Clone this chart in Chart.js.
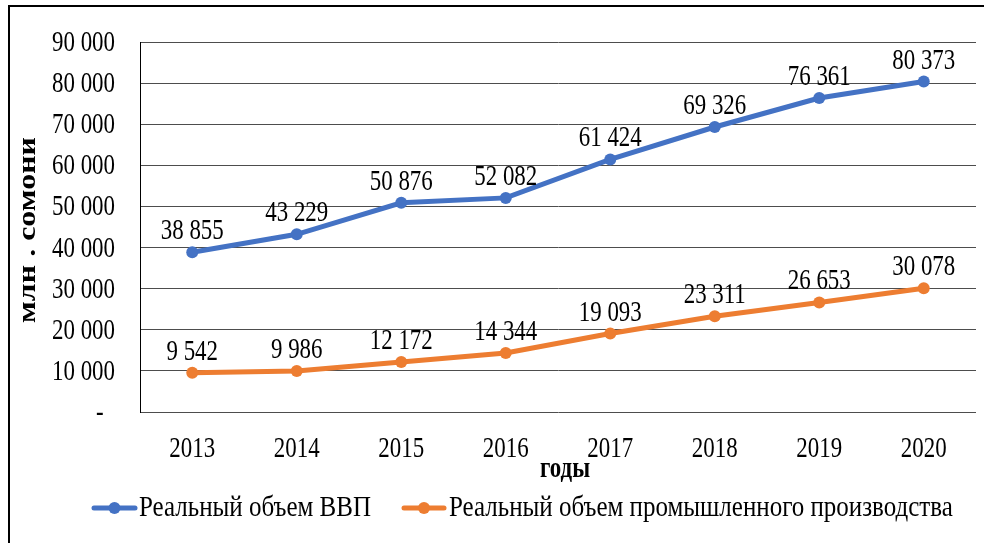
<!DOCTYPE html>
<html>
<head>
<meta charset="utf-8">
<script src="https://cdn.jsdelivr.net/npm/chart.js@4"></script>
<style>
    html, body { margin: 0; padding: 0; background: #fff; overflow: hidden; }
    #frame { position: absolute; left: 8px; top: 5px; width: 1100px; height: 700px; border: 2px solid #000; }
    #chart { position: absolute; left: 0; top: 0; }
</style>
</head>
<body>
<div id="frame"></div>
<canvas id="chart" width="984" height="543"></canvas>
<script>
// === DATA ===
const years = ['2013', '2014', '2015', '2016', '2017', '2018', '2019', '2020'];
const gdpValues = [38855, 43229, 50876, 52082, 61424, 69326, 76361, 80373];
const industryValues = [9542, 9986, 12172, 14344, 19093, 23311, 26653, 30078];
const seriesNames = ['Реальный объем ВВП', 'Реальный объем промышленного производства'];
const yAxisTitle = 'млн . сомони';
const xAxisTitle = 'годы';

const COLORS = { blue: '#4472C4', orange: '#ED7D31', grid: '#4d4d4d', text: '#000' };
const SERIF = '"Liberation Serif", "Times New Roman", serif';
const SX = 0.79; // text in the reference is narrow / tall

const fmt = v => v === 0 ? '-  ' : String(v).replace(/\B(?=(\d{3})+(?!\d))/g, ' ');

// condensed text helper
function text(ctx, str, x, y, font, align, sx) {
    ctx.save();
    ctx.font = font;
    ctx.fillStyle = COLORS.text;
    ctx.translate(x, y);
    ctx.scale(sx || SX, 1);
    ctx.textAlign = align || 'center';
    ctx.textBaseline = 'alphabetic';
    ctx.fillText(str, 0, 0);
    ctx.restore();
}

const textPlugin = {
    id: 'condensedText',
    afterDatasetsDraw(chart) {
        const ctx = chart.ctx;
        const xs = chart.scales.x, ys = chart.scales.y;
        const font = '29px ' + SERIF;

        // y tick labels
        ys.ticks.forEach((t, i) => {
            text(ctx, fmt(t.value), 115, ys.getPixelForTick(i) + 9, font, 'right');
        });
        // x tick labels
        years.forEach((y, i) => text(ctx, y, xs.getPixelForValue(i), 457, font, 'center'));

        // data labels
        chart.data.datasets.forEach((ds, di) => {
            chart.getDatasetMeta(di).data.forEach((pt, i) => {
                text(ctx, fmt(ds.data[i]), pt.x, pt.y - 13, font, 'center');
            });
        });

        // axis titles
        text(ctx, xAxisTitle, 565, 477, 'bold 29px ' + SERIF, 'center');
        ctx.save();
        ctx.font = 'bold 32px ' + SERIF;
        ctx.fillStyle = COLORS.text;
        ctx.translate(35, 230);
        ctx.rotate(-Math.PI / 2);
        ctx.scale(1, SX);
        ctx.textAlign = 'center';
        ctx.textBaseline = 'alphabetic';
        ctx.fillText(yAxisTitle, 0, 0);
        ctx.restore();

        // legend
        const items = [{ x0: 92, x1: 137, tx: 139 }, { x0: 402, x1: 446, tx: 449 }];
        chart.data.datasets.forEach((ds, di) => {
            const it = items[di];
            ctx.save();
            ctx.strokeStyle = ds.borderColor;
            ctx.lineWidth = 5;
            ctx.lineCap = 'round';
            ctx.beginPath();
            ctx.moveTo(it.x0 + 2, 508);
            ctx.lineTo(it.x1 - 2, 508);
            ctx.stroke();
            ctx.fillStyle = ds.borderColor;
            ctx.beginPath();
            ctx.arc((it.x0 + it.x1) / 2, 508, 6, 0, Math.PI * 2);
            ctx.fill();
            ctx.restore();
            text(ctx, ds.label, it.tx, 516, '30px ' + SERIF, 'left', 0.833);
        });
    }
};

const ctx = document.getElementById('chart').getContext('2d');
new Chart(ctx, {
    type: 'line',
    data: {
        labels: years,
        datasets: [
            { label: seriesNames[0], data: gdpValues, borderColor: COLORS.blue, backgroundColor: COLORS.blue,
              borderWidth: 5, pointRadius: 6, pointBorderWidth: 0, tension: 0 },
            { label: seriesNames[1], data: industryValues, borderColor: COLORS.orange, backgroundColor: COLORS.orange,
              borderWidth: 5, pointRadius: 6, pointBorderWidth: 0, tension: 0 }
        ]
    },
    options: {
        responsive: false, animation: false, devicePixelRatio: 1,
        layout: { autoPadding: false, padding: { left: 140, right: 8, top: 42, bottom: 131 } },
        plugins: { legend: { display: false }, tooltip: { enabled: false } },
        scales: {
            x: { offset: true, grid: { display: false, drawTicks: false }, border: { display: false }, ticks: { display: false } },
            y: { min: 0, max: 90000, ticks: { display: false, stepSize: 10000 },
                 grid: { color: COLORS.grid, lineWidth: 1, drawTicks: false },
                 border: { display: true, color: '#000', width: 1 } }
        }
    },
    plugins: [textPlugin]
});
</script>
</body>
</html>
